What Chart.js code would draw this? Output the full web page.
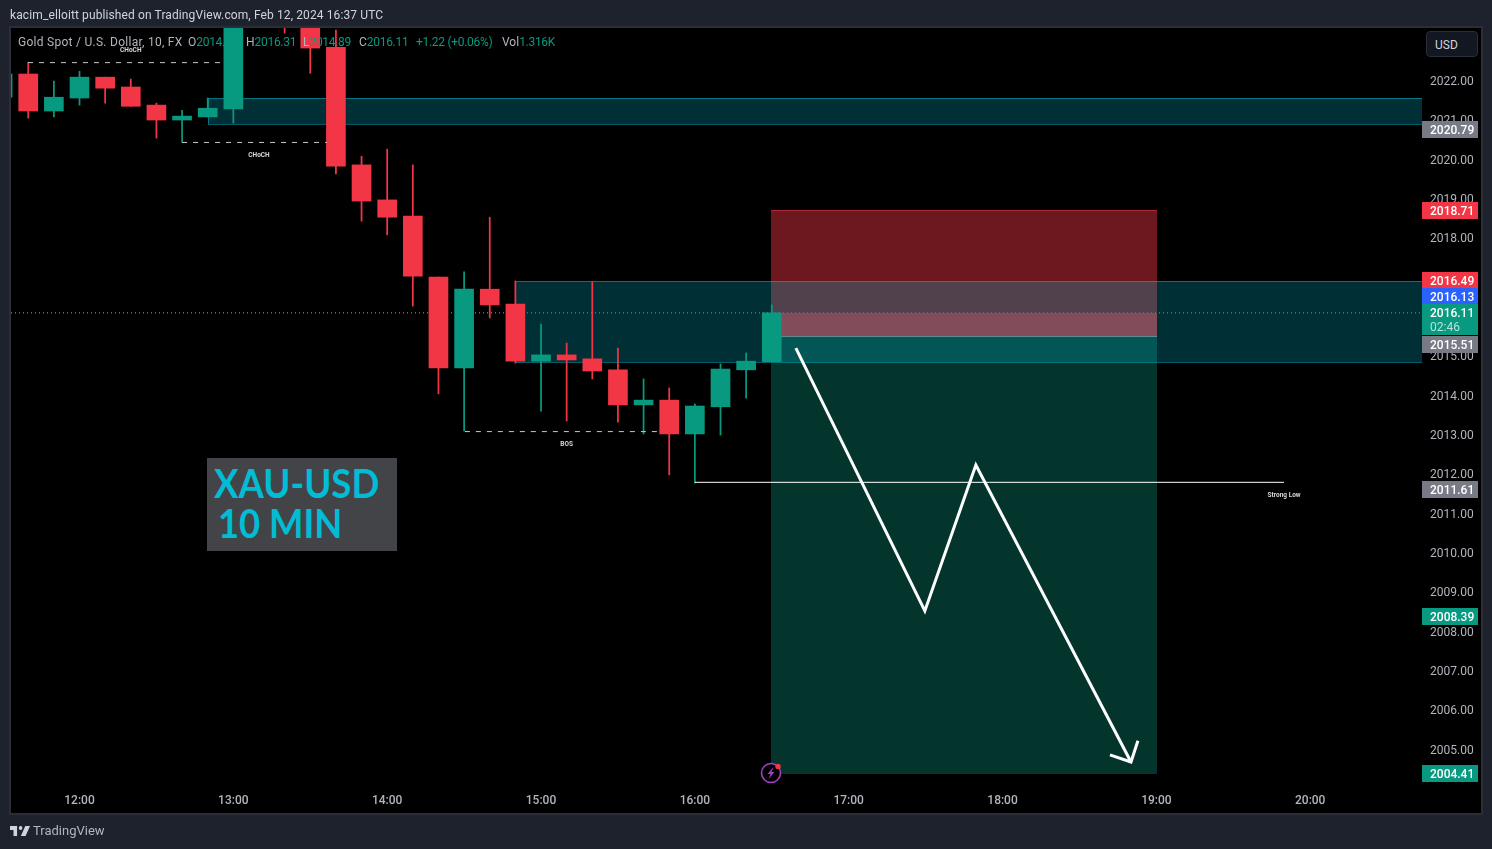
<!DOCTYPE html>
<html><head><meta charset="utf-8">
<script src="https://cdn.jsdelivr.net/npm/chart.js@4"></script>
<style>
html,body{margin:0;padding:0;background:#1e222d;width:1492px;height:849px;overflow:hidden;font-family:Roboto,sans-serif}
canvas{position:absolute;left:0;top:0}
.t{position:absolute;white-space:pre;font-size:12px;line-height:14px}
.n{color:#089981;letter-spacing:-.3px}
</style></head><body>
<canvas id="c" width="1492" height="849" style="width:1492px;height:849px"></canvas>
<div class="t" style="left:10px;top:8px;color:#d1d4dc;letter-spacing:.11px">kacim_elloitt published on TradingView.com, Feb 12, 2024 16:37 UTC</div>
<div class="t" style="left:18px;top:35px;color:#b2b5be;letter-spacing:.27px">Gold Spot / U.S. Dollar, 10, FX</div>
<div class="t" style="left:188px;top:35px;color:#b2b5be">O<span class="n">2014.89</span></div>
<div class="t" style="left:246px;top:35px;color:#b2b5be">H<span class="n">2016.31</span></div>
<div class="t" style="left:303px;top:35px;color:#b2b5be">L<span class="n">2014.89</span></div>
<div class="t" style="left:359px;top:35px;color:#b2b5be">C<span class="n">2016.11</span></div>
<div class="t n" style="left:416px;top:35px">+1.22 (+0.06%)</div>
<div class="t" style="left:502px;top:35px;color:#b2b5be">Vol<span class="n">1.316K</span></div>
<div style="position:absolute;left:1426px;top:31px;width:50px;height:24px;border:1px solid #2a2e39;border-radius:4px;background:#131722"></div>
<div class="t" style="left:1435px;top:38px;color:#d1d4dc">USD</div>
<div style="position:absolute;left:207px;top:458px;width:190px;height:93px;background:#434447"></div>
<div class="t" style="left:214px;top:463px;color:#00bcd4;font:700 40px/40px Lato,sans-serif;transform:scaleX(.915);transform-origin:0 0">XAU-USD</div>
<div class="t" style="left:218px;top:503px;color:#00bcd4;font:700 40px/40px Lato,sans-serif;transform:scaleX(.91);transform-origin:0 0">10 MIN</div>
<svg style="position:absolute;left:10px;top:826px" width="20" height="10" viewBox="2 6 34 15" preserveAspectRatio="none"><path fill="#d1d4dc" d="M14 6H2v6h6v9h6V6zm14 15h-7.5l7.5-15H36l-7.5 15zM20 6a3 3 0 1 1 0 6 3 3 0 0 1 0-6z"/></svg>
<div class="t" style="left:33px;top:824px;font-size:13px;color:#b2b5be">TradingView</div>
<script>
const barIndex=[-3,-2,-1,0,1,2,3,4,5,6,7,8,9,10,11,12,13,14,15,16,17,18,19,20,21,22,23,24,25,26,27];
const opens =[2021.59,2022.18,2021.24,2021.57,2022.10,2021.85,2021.39,2021.01,2021.09,2021.29,2023.6,2024.2,2023.8,2022.86,2019.87,2018.98,2018.57,2017.02,2014.71,2016.71,2016.33,2014.88,2015.04,2014.94,2014.66,2013.77,2013.89,2013.03,2013.72,2014.66,2014.87];
const highs =[2022.30,2022.48,2022.00,2022.25,2022.10,2022.05,2021.44,2021.26,2021.57,2023.9,2024.5,2024.6,2024.0,2023.30,2020.09,2020.27,2019.87,2017.02,2017.15,2018.54,2016.92,2015.82,2015.34,2016.89,2015.21,2014.43,2014.20,2013.79,2014.81,2015.09,2016.31];
const lows  =[2021.40,2021.06,2021.09,2021.39,2021.44,2021.36,2020.55,2020.45,2021.09,2020.93,2023.45,2023.22,2022.20,2019.64,2018.44,2018.09,2016.28,2014.05,2013.11,2015.98,2014.83,2013.61,2013.36,2014.43,2013.33,2013.03,2011.99,2011.78,2013.00,2013.94,2014.87];
const closes=[2022.18,2021.24,2021.59,2022.10,2021.82,2021.36,2021.01,2021.11,2021.31,2023.6,2024.2,2023.8,2022.84,2019.84,2018.95,2018.54,2017.04,2014.71,2016.71,2016.31,2014.88,2015.04,2014.91,2014.63,2013.77,2013.89,2013.03,2013.74,2014.68,2014.88,2016.11];
const timeTickIndex=[0,6,12,18,24,30,36,42,48];
const timeTickLabels=['12:00','13:00','14:00','15:00','16:00','17:00','18:00','19:00','20:00'];
const priceTicks=[2005,2006,2007,2008,2009,2010,2011,2012,2013,2014,2015,2016,2017,2018,2019,2020,2021,2022];
const zoneUpper=[[5.0,2021.57,2020.91]];
const zoneLower=[[17.0,2016.92,2014.86]];
const zoneEnd=52.36;
const positionBox={start:26.97,end:42.02,stop:2018.71,entry:2015.51,target:2004.41,current:2016.11};
const choch1=[[-2.01,2022.47],[5.52,2022.47]];
const choch2=[[4.0,2020.44],[9.65,2020.44]];
const bos=[[15.03,2013.09],[22.52,2013.09]];
const strongLow=[[24,2011.80],[46.98,2011.80]];
const lastPrice=[[-2.672,2016.11],[52.36,2016.11]];
const zigzag=[[27.94,2015.21],[32.97,2008.53],[34.96,2012.24],[41.01,2004.69]];
const arrowHead=[[40.19,2004.87],[41.01,2004.69],[41.28,2005.23]];
const chartLabels=[['CHoCH',2,2022.79],['CHoCH',7,2020.10],['BOS',19,2012.76],['Strong Low',46.98,2011.47]];
const axisLabels=[[2020.79,'#787b86',.4],[2018.71,'#f23645',0],[2016.49,'#f23645',-17.5],[2016.13,'#2962ff',-15.5],[2015.51,'#787b86',8.5],[2011.61,'#787b86',0],[2008.39,'#089981',0],[2004.41,'#089981',0]];
const green='#089981',red='#f23645';
const pts=a=>a.map(p=>({x:p[0],y:p[1]}));
const line=(a,color,w,dash,order)=>({type:'line',data:pts(a),borderColor:color,borderWidth:w,borderDash:dash||[],pointRadius:0,fill:false,tension:0,order,borderCapStyle:'butt',borderJoinStyle:'miter'});
const dir=closes.map((c,i)=>c>=opens[i]?green:red);
const bg={id:'bg',beforeDraw(ch){const g=ch.ctx;g.save();g.fillStyle='#000';g.fillRect(11,28,1470,785);g.strokeStyle='#2a2e39';g.lineWidth=2;g.strokeRect(10,27,1472,787);g.restore();}};
const under={id:'under',beforeDatasetsDraw(ch){
 const g=ch.ctx,X=ch.scales.x,Y=ch.scales.y,a=ch.chartArea;g.save();
 g.beginPath();g.rect(a.left,a.top,a.width,a.height);g.clip();
 const P=positionBox,x0=Math.round(X.getPixelForValue(P.start)),x1=Math.round(X.getPixelForValue(P.end));
 const py=v=>Math.round(Y.getPixelForValue(v));
 const top=Math.floor(Y.getPixelForValue(P.stop)),en=py(P.entry),bot=Math.ceil(Y.getPixelForValue(P.target)),cur=py(P.current);
 g.fillStyle='rgba(242,54,69,.45)';g.fillRect(x0,top,x1-x0,en-top);
 g.fillStyle='rgba(8,153,129,.35)';g.fillRect(x0,en,x1-x0,bot-en);
 g.fillStyle='rgba(242,54,69,.5)';g.fillRect(x0,cur,x1-x0,en-cur);
 g.fillStyle='rgba(242,54,69,.5)';g.fillRect(x0,top,x1-x0,1);
 for(const z of [...zoneUpper,...zoneLower]){
  const l=Math.round(X.getPixelForValue(z[0])),r=Math.round(X.getPixelForValue(zoneEnd)),t=py(z[1]),b=py(z[2]);
  g.fillStyle='rgba(0,188,212,.25)';g.fillRect(l,t,r-l,b-t);
  g.strokeStyle='rgba(0,188,212,.5)';g.lineWidth=1;g.strokeRect(l+.5,t+.5,r-l,b-t);
 }
 g.fillStyle='rgba(150,165,175,.65)';g.fillRect(x0,en,x1-x0,1);
 g.restore();
}};
const over={id:'over',afterDatasetsDraw(ch){
 const g=ch.ctx,X=ch.scales.x,Y=ch.scales.y;g.save();
 g.textAlign='center';g.textBaseline='middle';
 g.font='bold 6.5px Roboto';g.fillStyle='#d8d8d8';
 for(const L of chartLabels)g.fillText(L[0],X.getPixelForValue(L[1]),Y.getPixelForValue(L[2]));
 const ix=X.getPixelForValue(26.97),iy=Y.getPixelForValue(2004.41);
 g.strokeStyle='#a63fc0';g.lineWidth=1.6;g.fillStyle='#000';g.beginPath();g.arc(ix,iy,9.5,0,Math.PI*2);g.fill();g.stroke();
 g.fillStyle='#a63fc0';g.beginPath();g.moveTo(ix+2.5,iy-6);g.lineTo(ix-3.5,iy+1);g.lineTo(ix-.5,iy+1);g.lineTo(ix-2.5,iy+6);g.lineTo(ix+3.5,iy-1);g.lineTo(ix+.5,iy-1);g.closePath();g.fill();
 g.fillStyle='#f23645';g.beginPath();g.arc(ix+7,iy-6.5,2.7,0,Math.PI*2);g.fill();
 g.restore();
},afterDraw(ch){
 const g=ch.ctx,Y=ch.scales.y;g.save();g.textBaseline='middle';g.textAlign='left';
 const tag=(yt,h,c)=>{g.fillStyle=c;g.fillRect(1422,Math.round(yt),56,h);};
 for(const A of axisLabels){
  const y=Y.getPixelForValue(A[0])+A[2];
  tag(y-8.5,17,A[1]);g.fillStyle='#fff';g.font='500 12px Roboto';g.fillText(A[0].toFixed(2),1430,y+1.5);
 }
 const y=Y.getPixelForValue(2016.11);
 tag(y-8.5,31,green);g.fillStyle='#fff';g.font='500 12px Roboto';g.fillText('2016.11',1430,y+1.5);
 g.fillStyle='rgba(255,255,255,.7)';g.font='12px Roboto';g.fillText('02:46',1430,y+15);
 g.restore();
}};
new Chart(document.getElementById('c'),{
 type:'bar',
 data:{datasets:[
  line(zigzag,'#fff',3,null,0),
  line(arrowHead,'#fff',3,null,0),
  line(strongLow,'#fff',1,null,1),
  line(choch1,'#c8c8c8',1,[5,6],1),
  line(choch2,'#c8c8c8',1,[5,6],1),
  line(bos,'#c8c8c8',1,[5,6],1),
  {type:'bar',data:barIndex.map((x,i)=>({x,y:[opens[i],closes[i]]})),backgroundColor:dir,barThickness:19,grouped:false,order:2},
  {type:'bar',data:barIndex.map((x,i)=>({x,y:[lows[i],highs[i]]})),backgroundColor:dir,barThickness:1.1,grouped:false,order:3},
  line(lastPrice,'#089981',1.5,[1,3],4)
 ]},
 plugins:[bg,under,over],
 options:{responsive:false,animation:false,devicePixelRatio:1,
  layout:{padding:{left:11,top:28,right:11,bottom:36}},
  plugins:{legend:{display:false},tooltip:{enabled:false}},
  scales:{
   x:{type:'linear',offset:false,min:-2.672,max:52.36,grid:{display:false},border:{display:false},
    afterBuildTicks(s){s.ticks=timeTickIndex.map(v=>({value:v}));},
    afterFit(s){s.height=27;},
    ticks:{autoSkip:false,maxRotation:0,padding:0,color:'#b2b5be',font:{family:'Roboto',size:12,weight:'500'},callback:(v)=>timeTickLabels[timeTickIndex.indexOf(v)]}},
   y:{position:'right',min:2004.08,max:2023.35,grid:{display:false},border:{display:false},
    afterBuildTicks(s){s.ticks=priceTicks.map(v=>({value:v}));
      const base=Object.getPrototypeOf(s).getPixelForTick;
      s.getPixelForTick=function(i){return base.call(this,i)+1;};},
    afterFit(s){s.width=59;},
    ticks:{autoSkip:false,padding:0,color:'#b2b5be',font:{family:'Roboto',size:12},callback:v=>v.toFixed(2)}}
  }}
});
</script>
</body></html>
